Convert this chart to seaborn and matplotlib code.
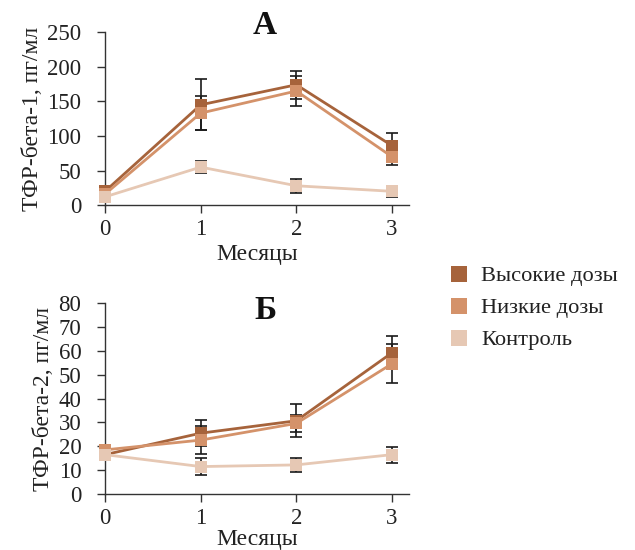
import numpy as np
import pandas as pd
import matplotlib
matplotlib.use("Agg")
import matplotlib.pyplot as plt
from matplotlib.lines import Line2D
import seaborn as sns

months = [0, 1, 2, 3]
groups = ["Высокие дозы", "Низкие дозы", "Контроль"]
colors = ["#A6633B", "#D4926A", "#E6C8B4"]

# ТФР-бета-1
tgf1_high = [20, 145, 174, 86]
tgf1_low = [16, 133, 165, 70]
tgf1_ctrl = [12, 55, 28, 20]
tgf1_high_err = [0, 37, 20, 18]
tgf1_low_err = [0, 25, 22, 12]
tgf1_ctrl_err = [0, 9, 10, 8]

# ТФР-бета-2
tgf2_high = [16.5, 25.5, 30.7, 59.2]
tgf2_low = [18.5, 22.6, 29.6, 54.6]
tgf2_ctrl = [16.5, 11.5, 12.2, 16.5]
tgf2_high_err = [0, 5.5, 7, 7]
tgf2_low_err = [0, 6, 3.6, 8.2]
tgf2_ctrl_err = [0, 3.5, 2.8, 3.3]

plt.rcParams["font.family"] = ["Liberation Serif", "DejaVu Serif"]
sns.set_style("ticks")
plt.rcParams["font.family"] = ["Liberation Serif", "DejaVu Serif"]

FS = 16.5


def make_df(high, low, ctrl, high_err, low_err, ctrl_err):
    rows = []
    for g, vals, errs in zip(groups, [high, low, ctrl], [high_err, low_err, ctrl_err]):
        for m, v, e in zip(months, vals, errs):
            rows.append({"month": m, "value": v, "err": e, "group": g})
    return pd.DataFrame(rows)


def draw_panel(ax, df, ylim, yticks, ylabel, letter, letter_y, xpad):
    sns.lineplot(data=df, x="month", y="value", hue="group", hue_order=groups,
                 palette=colors, marker="s", markersize=8, markeredgewidth=0,
                 linewidth=2, legend=False, ax=ax, zorder=3)
    for line in ax.lines:
        line.set_clip_on(False)
    for g in groups:
        sub = df[(df["group"] == g) & (df["err"] > 0)]
        ax.errorbar(sub["month"], sub["value"], yerr=sub["err"], fmt="none",
                    ecolor="#1a1a1a", elinewidth=1.2, capsize=4, capthick=1.2,
                    zorder=2)
    ax.set_xlim(0, 3.18)
    ax.set_ylim(*ylim)
    ax.set_xticks(months)
    ax.set_yticks(yticks)
    ax.tick_params(labelsize=FS, length=6, width=1, color="#333333",
                   labelcolor="#222222")
    ax.tick_params(axis="y", pad=11)
    ax.tick_params(axis="x", pad=4)
    ax.set_xlabel("Месяцы", fontsize=FS + 0.5, color="#222222", labelpad=xpad)
    ax.set_ylabel(ylabel, fontsize=FS + 0.5, color="#222222", labelpad=3)
    for s in ["top", "right"]:
        ax.spines[s].set_visible(False)
    for s in ["left", "bottom"]:
        ax.spines[s].set_color("#333333")
        ax.spines[s].set_linewidth(1)
    ax.text(0.526, letter_y, letter, transform=ax.transAxes, ha="center",
            va="center", fontsize=24, fontweight="bold", color="#111111")


fig = plt.figure(figsize=(6.35, 5.5), dpi=100)
ax1 = fig.add_axes([0.1654, 0.627, 0.479, 0.3145])
ax2 = fig.add_axes([0.1654, 0.1018, 0.479, 0.347])

df1 = make_df(tgf1_high, tgf1_low, tgf1_ctrl, tgf1_high_err, tgf1_low_err, tgf1_ctrl_err)
df2 = make_df(tgf2_high, tgf2_low, tgf2_ctrl, tgf2_high_err, tgf2_low_err, tgf2_ctrl_err)

draw_panel(ax1, df1, (0, 250), range(0, 251, 50), "ТФР-бета-1, пг/мл", "А", 1.04, 3)
draw_panel(ax2, df2, (0, 80), range(0, 81, 10), "ТФР-бета-2, пг/мл", "Б", 0.96, 0)

handles = [Line2D([], [], linestyle="none", marker="s", markersize=11.5,
                  markerfacecolor=c, markeredgewidth=0) for c in colors]
fig.legend(handles, groups, loc="center left", bbox_to_anchor=(0.676, 0.44),
           frameon=False, fontsize=16.2, handlelength=0.8, handletextpad=0.6,
           labelspacing=0.5, labelcolor="#222222")

fig.savefig("out.png", dpi=100)
